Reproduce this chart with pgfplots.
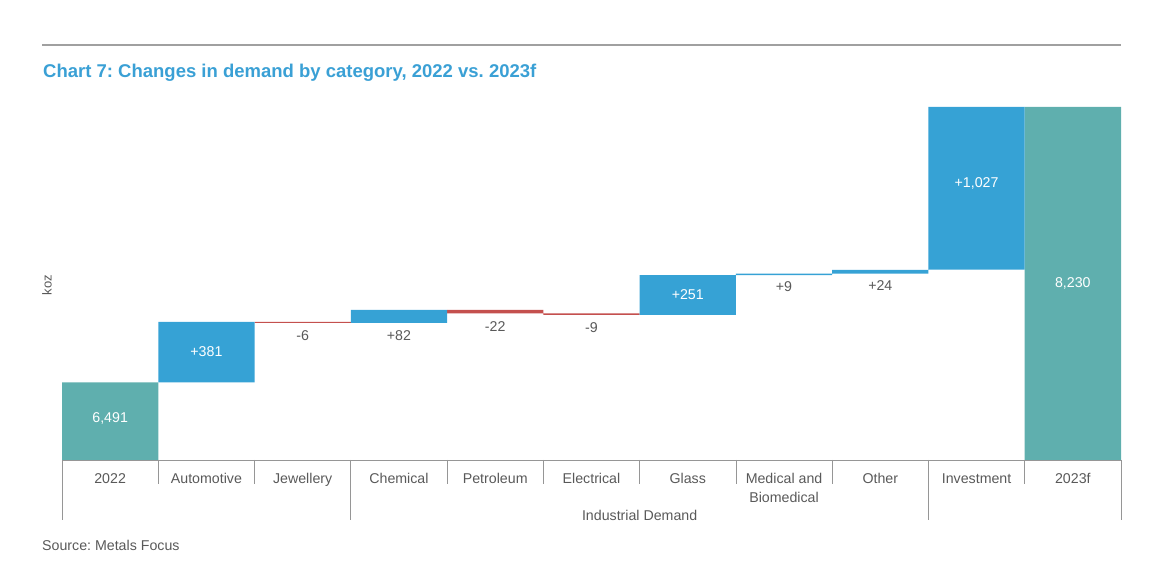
\documentclass[border=0pt]{standalone}
\usepackage{fontspec}
\setmainfont{Liberation Sans}
\usepackage{pgfplots}
\pgfplotsset{compat=1.18}
\usepackage{pgfplotstable}
\frenchspacing

\definecolor{mfblue}{RGB}{54,162,213}
\definecolor{mfteal}{RGB}{95,175,174}
\definecolor{mfred}{RGB}{196,80,78}
\definecolor{titleblue}{RGB}{58,160,213}
\definecolor{textgray}{RGB}{89,89,89}
\definecolor{rulegray}{RGB}{160,160,160}
\definecolor{sepgray}{RGB}{150,150,150}

% waterfall: invisible base + visible step
\pgfplotstableread{
x  base pos  neg tot
0  0    0    0   6491
1  6491 381  0   0
2  6866 0    6   0
3  6866 82   0   0
4  6926 0    22  0
5  6917 0    9   0
6  6917 251  0   0
7  7168 9    0   0
8  7177 24   0   0
9  7203 1027 0   0
10 0    0    0   8230
}\bars

\newcommand{\lblfont}{\fontsize{14.2}{19}\selectfont}

\begin{document}
\begin{tikzpicture}[x=1pt,y=1pt]
\path[use as bounding box] (0,0) rectangle (1154,578);
\draw[rulegray, line width=1.5pt] (42,533) -- (1121,533);
\node[anchor=base west, inner sep=0pt, text=titleblue,
      font=\fontsize{18.5}{22}\selectfont\bfseries] at (43,500)
      {Chart 7: Changes in demand by category, 2022 vs. 2023f};
\node[rotate=90, text=textgray, font=\fontsize{13}{15}\selectfont] at (47,293) {koz};
\node[anchor=base west, inner sep=0pt, text=textgray, font=\lblfont] at (42,27)
      {Source: Metals Focus};

\begin{axis}[
  at={(62pt,118pt)}, anchor=south west,
  scale only axis, width=1059pt, height=353pt,
  xmin=-0.5, xmax=10.5, ymin=6000, ymax=8230,
  ybar stacked, bar width=1,
  axis y line=none, axis x line*=bottom,
  x axis line style={draw=sepgray, line width=0.8pt},
  xtick={0,...,10},
  xticklabels={2022,Automotive,Jewellery,Chemical,Petroleum,Electrical,Glass,{Medical and\\Biomedical},Other,Investment,2023f},
  major tick length=0pt,
  typeset ticklabels with strut,
  xticklabel style={anchor=north, inner sep=0pt, yshift=-10pt, align=center,
                    font=\lblfont, text=textgray},
]
\addplot[fill=none, draw=none] table[x=x, y=base]{\bars};
\addplot[fill=mfblue, draw=none] table[x=x, y=pos]{\bars};
\addplot[fill=mfred, draw=none] table[x=x, y=neg]{\bars};
\addplot[fill=mfteal, draw=none] table[x=x, y=tot]{\bars};
\end{axis}

\begin{axis}[
  at={(62pt,118pt)}, anchor=south west,
  scale only axis, width=1059pt, height=353pt,
  xmin=-0.5, xmax=10.5, ymin=6000, ymax=8230,
  axis lines=none, clip=false,
]
\pgfplotsinvokeforeach{0.5,1.5,3.5,4.5,5.5,6.5,7.5,9.5}{
  \draw[sepgray, line width=0.8pt] (axis cs:#1,6000) -- ++(0pt,-24pt);
}
\pgfplotsinvokeforeach{-0.5,2.5,8.5,10.5}{
  \draw[sepgray, line width=0.8pt] (axis cs:#1,6000) -- ++(0pt,-60pt);
}
\node[anchor=base, inner sep=0pt, yshift=-61pt, font=\lblfont, text=textgray]
  at (axis cs:5.5,6000) {Industrial Demand};
% labels inside the bars
\addplot[only marks, mark=none, point meta=explicit symbolic, nodes near coords,
  every node near coord/.append style={anchor=center, font=\lblfont, text=white}]
  coordinates {(0,6265)[6,491] (1,6682)[+381] (6,7042)[+251] (9,7750)[+1,027] (10,7118)[8,230]};
% labels below the thin bars
\addplot[only marks, mark=none, point meta=explicit symbolic, nodes near coords,
  every node near coord/.append style={anchor=center, font=\lblfont, text=textgray}]
  coordinates {(2,6783)[-6] (3,6783)[+82] (4,6846)[-22] (5,6834)[-9] (7,7093)[+9] (8,7099)[+24]};
\end{axis}
\end{tikzpicture}
\end{document}
